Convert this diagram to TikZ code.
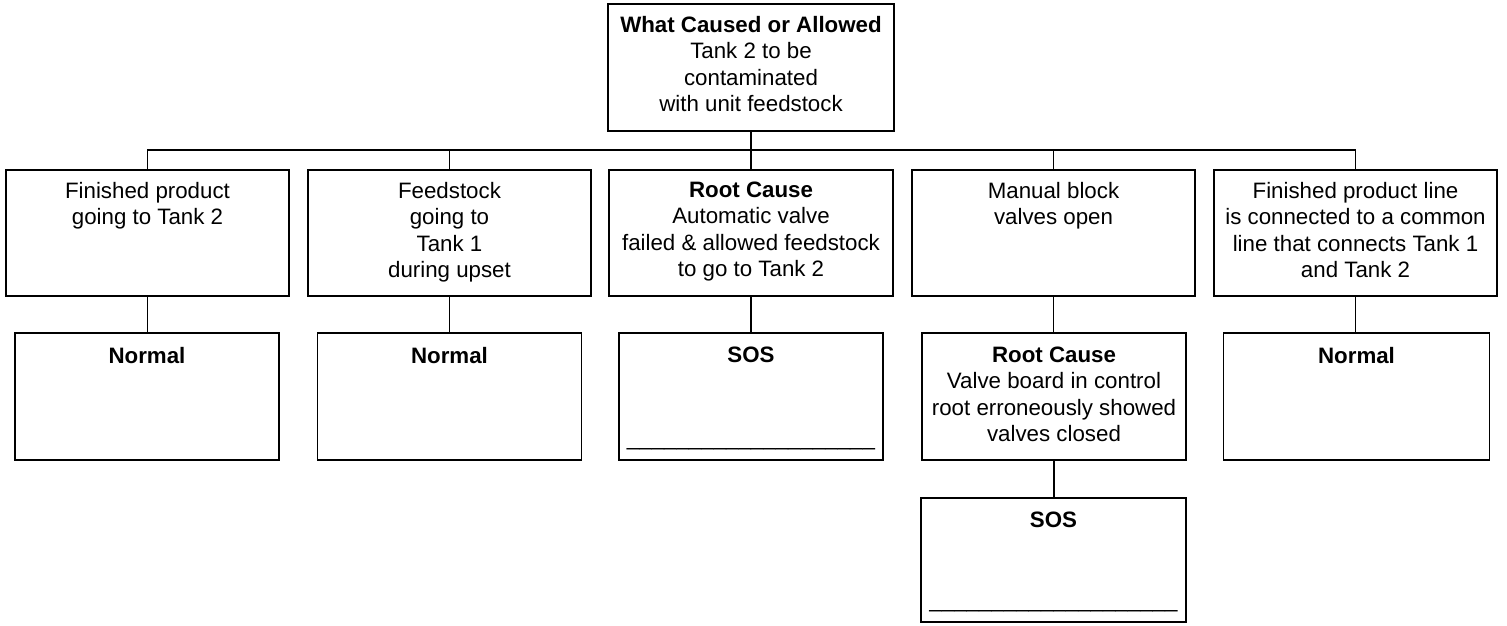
\documentclass[tikz,border=0pt]{standalone}
\usepackage{fontspec}
\setmainfont{Liberation Sans}
\begin{document}
\begin{tikzpicture}[x=1pt,y=1pt,
  box/.style 2 args={draw, line width=1.7pt, inner sep=0pt, minimum width=#1, minimum height=#2},
  txt/.style={anchor=north, align=center, inner sep=0pt, font=\fontsize{22.3}{26.5}\selectfont, yshift=-12.5pt},
  uline/.style={anchor=base, inner sep=0pt, font=\fontsize{22.3}{26.5}\selectfont, yshift=15.5pt},
  conn/.style={line width=1.6pt}]
\useasboundingbox (0,0) rectangle (1507,625);
% top
\node[box={286pt}{127pt}, label={[txt]north:{\textbf{What Caused or Allowed}\\Tank 2 to be\\contaminated\\with unit feedstock}}] (top) at (751,557.5) {};
% row 1
\node[box={283pt}{126pt}, label={[txt]north:{Finished product\\going to Tank 2}}] (b1) at (147.5,392) {};
\node[box={283pt}{126pt}, label={[txt]north:{Feedstock\\going to\\Tank 1\\during upset}}] (b2) at (449.5,392) {};
\node[box={284pt}{126pt}, label={[txt]north:{\textbf{Root Cause}\\Automatic valve\\failed \& allowed feedstock\\to go to Tank 2}}] (b3) at (751,392) {};
\node[box={283pt}{126pt}, label={[txt]north:{Manual block\\valves open}}] (b4) at (1053.5,392) {};
\node[box={283pt}{126pt}, label={[txt]north:{Finished product line\\is connected to a common\\line that connects Tank 1\\and Tank 2}}] (b5) at (1355.5,392) {};
% row 2
\node[box={264pt}{127pt}, label={[txt,yshift=-2pt]north:{\textbf{Normal}}}] (c1) at (147,228.5) {};
\node[box={264pt}{127pt}, label={[txt,yshift=-2pt]north:{\textbf{Normal}}}] (c2) at (449.5,228.5) {};
\node[box={264pt}{127pt}, label={[txt,yshift=-2pt]north:{\textbf{SOS}}}, label={[uline]south:{\_\_\_\_\_\_\_\_\_\_\_\_\_\_\_\_\_\_\_\_}}] (c3) at (751,228.5) {};
\node[box={264pt}{127pt}, label={[txt,yshift=-2pt]north:{\textbf{Root Cause}\\Valve board in control\\root erroneously showed\\valves closed}}] (c4) at (1054,228.5) {};
\node[box={266pt}{127pt}, label={[txt,yshift=-2pt]north:{\textbf{Normal}}}] (c5) at (1356.5,228.5) {};
% row 3
\node[box={265pt}{124pt}, label={[txt,yshift=-2pt]north:{\textbf{SOS}}}, label={[uline]south:{\_\_\_\_\_\_\_\_\_\_\_\_\_\_\_\_\_\_\_\_}}] (d4) at (1053.5,65) {};
% connectors
\coordinate (bus) at (751,475);
\draw[conn] (top.south) -- (b3.north);
\draw[conn] (b1.north) |- (bus) -| (b5.north);
\draw[conn] (b2.north) -- (b2.north |- bus);
\draw[conn] (b4.north) -- (b4.north |- bus);
\draw[conn] (b1.south) -- (b1.south |- c1.north);
\draw[conn] (b2.south) -- (b2.south |- c2.north);
\draw[conn] (b3.south) -- (b3.south |- c3.north);
\draw[conn] (b4.south) -- (b4.south |- c4.north);
\draw[conn] (b5.south) -- (b5.south |- c5.north);
\draw[conn] (c4.south) -- (c4.south |- d4.north);
\end{tikzpicture}
\end{document}
